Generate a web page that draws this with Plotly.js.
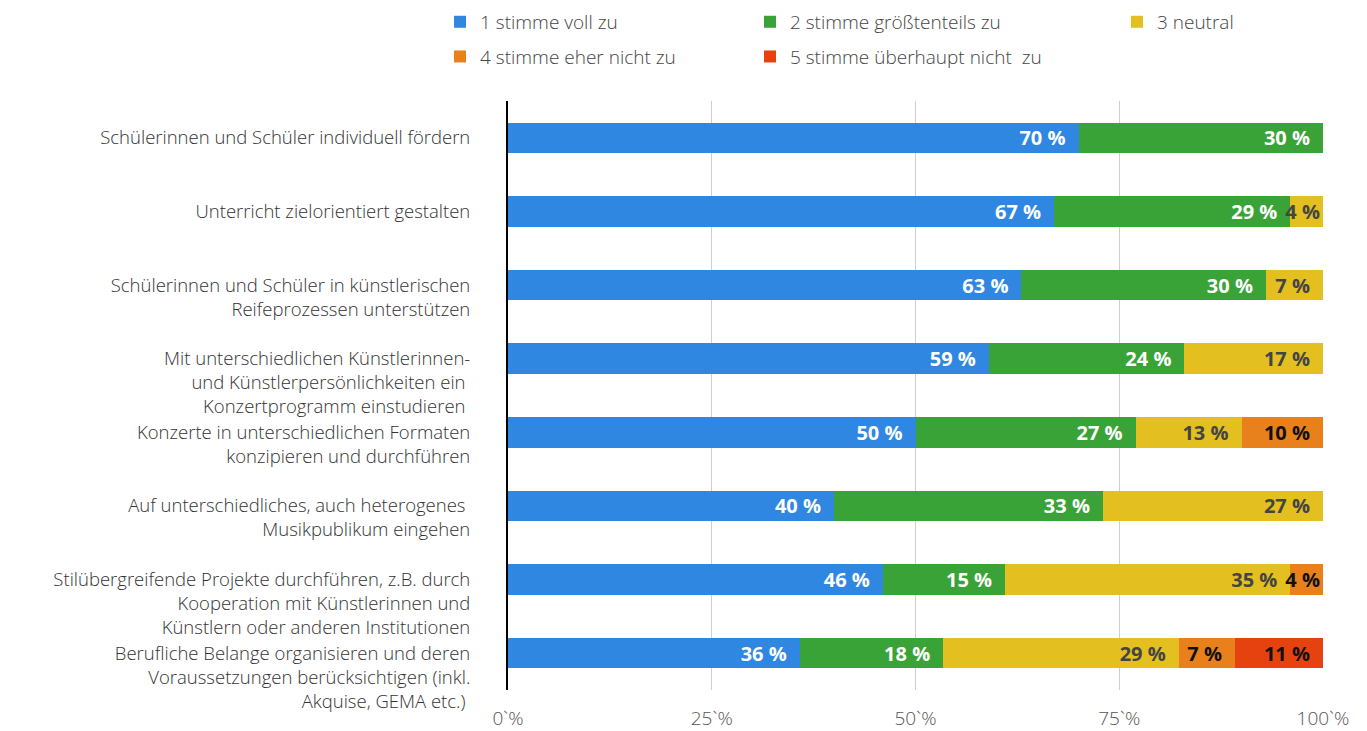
<!DOCTYPE html>
<html>
<head>
<meta charset="utf-8">
<script src="https://cdn.plot.ly/plotly-3.0.1.min.js"></script>
<style>html,body{margin:0;padding:0;background:#fff;}#chart{width:1367px;height:731px;}</style>
</head>
<body>
<div id="chart"></div>
<script>
// first line of each label sits at the bar; blank lines above keep that alignment
const categories = [
  "Schülerinnen und Schüler individuell fördern",
  "Unterricht zielorientiert gestalten",
  " <br>Schülerinnen und Schüler in künstlerischen<br>Reifeprozessen unterstützen",
  " <br> <br>Mit unterschiedlichen Künstlerinnen-<br>und Künstlerpersönlichkeiten ein <br>Konzertprogramm einstudieren ",
  " <br>Konzerte in unterschiedlichen Formaten<br>konzipieren und durchführen",
  " <br>Auf unterschiedliches, auch heterogenes <br>Musikpublikum eingehen",
  " <br> <br>Stilübergreifende Projekte durchführen, z.B. durch<br>Kooperation mit Künstlerinnen und<br>Künstlern oder anderen Institutionen",
  " <br> <br>Berufliche Belange organisieren und deren<br>Voraussetzungen berücksichtigen (inkl.<br>Akquise, GEMA etc.) "
];
const seriesNames = ["1 stimme voll zu", "2 stimme größtenteils zu", "3 neutral", "4 stimme eher nicht zu", "5 stimme überhaupt nicht  zu"];
const s1 = [70, 67, 63, 59, 50, 40, 46, 35.8];
const s2 = [30, 29, 30, 24, 27, 33, 15, 17.6];
const s3 = [0, 4, 7, 17, 13, 27, 35, 28.9];
const s4 = [0, 0, 0, 0, 10, 0, 4, 6.9];
const s5 = [0, 0, 0, 0, 0, 0, 0, 10.8];
const tickVals = [0, 25, 50, 75, 100];
const tickText = ["0`%", "25`%", "50`%", "75`%", "100`%"];

const colors = ["#2f87e2", "#39a337", "#e3c020", "#e8801b", "#e6420f"];
const textColors = ["#ffffff", "#ffffff", "#444444", "#111111", "#111111"];
const legendIds = ["legend", "legend2", "legend3", "legend", "legend2"];
const allSeries = [s1, s2, s3, s4, s5];

const traces = allSeries.map((vals, i) => ({
  type: "bar",
  orientation: "h",
  name: seriesNames[i],
  legend: legendIds[i],
  legendgroup: "g" + i,
  y: categories,
  x: vals,
  text: vals.map(v => v > 0 ? Math.round(v) + " %" + (v >= 5 ? "\u2002" : "") : ""),
  texttemplate: "%{text}",
  textposition: "inside",
  insidetextanchor: "end",
  constraintext: "none",
  cliponaxis: false,
  textfont: {family: "'Open Sans', Lato, sans-serif", size: 20, color: textColors[i], weight: "bold"},
  marker: {color: colors[i], line: {width: 0}},
  hoverinfo: "skip"
}));

const legendBase = {
  orientation: "v",
  xanchor: "left",
  yref: "container",
  y: 0.996,
  yanchor: "top",
  traceorder: "grouped",
  tracegroupgap: 7,
  font: {family: "'Open Sans', Lato, sans-serif", size: 19, color: "#444444", weight: 300},
  bgcolor: "rgba(0,0,0,0)",
  borderwidth: 0
};

const layout = {
  width: 1367,
  height: 731,
  barmode: "stack",
  bargap: 0.586,
  paper_bgcolor: "#ffffff",
  plot_bgcolor: "#ffffff",
  margin: {l: 508, r: 44, t: 101, b: 41},
  font: {family: "'Open Sans', Lato, sans-serif", color: "#333333"},
  showlegend: true,
  legend: Object.assign({}, legendBase, {x: -0.0834}),
  legend2: Object.assign({}, legendBase, {x: 0.2969}),
  legend3: Object.assign({}, legendBase, {x: 0.7472}),
  xaxis: {
    range: [0, 100],
    tickvals: tickVals,
    ticktext: tickText,
    showgrid: true,
    gridcolor: "#cfcfcf",
    gridwidth: 1,
    zeroline: false,
    showline: false,
    ticks: "",
    ticklabelstandoff: 15,
    tickfont: {family: "'Open Sans', Lato, sans-serif", size: 19, color: "#555555", weight: 300},
    fixedrange: true
  },
  yaxis: {
    autorange: "reversed",
    showline: true,
    linecolor: "#000000",
    linewidth: 2,
    ticks: "",
    ticklabelstandoff: 32,
    tickfont: {family: "'Open Sans', Lato, sans-serif", size: 18.5, color: "#333333", weight: 300},
    showgrid: false,
    fixedrange: true
  }
};

Plotly.newPlot("chart", traces, layout, {displayModeBar: false, staticPlot: true});
</script>
</body>
</html>
